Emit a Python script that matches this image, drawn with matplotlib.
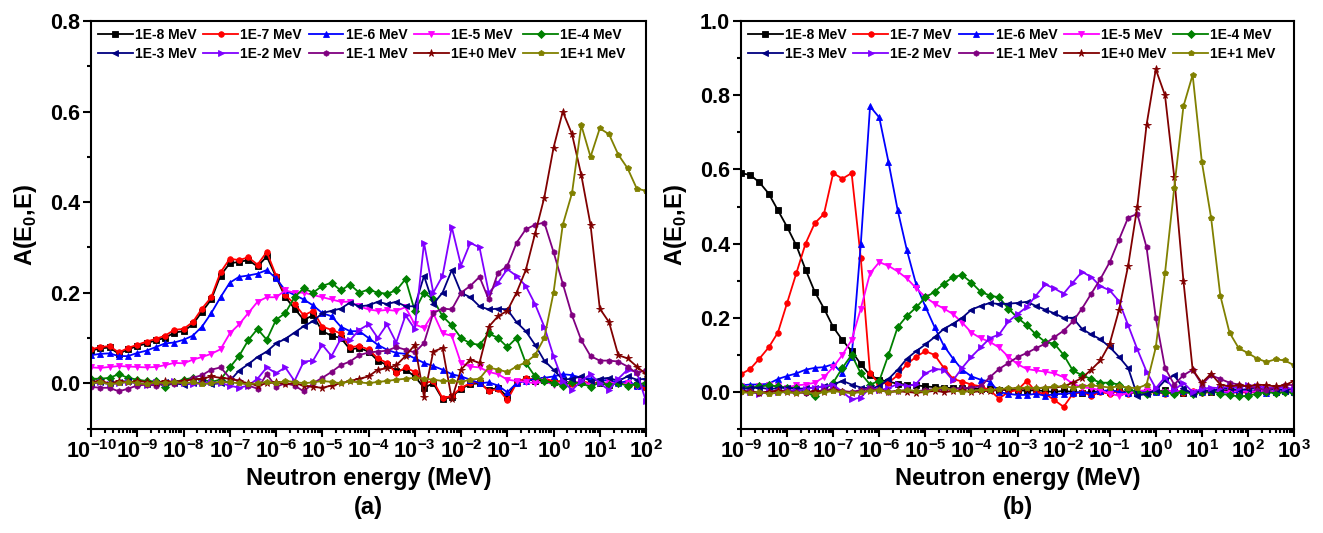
import numpy as np
import matplotlib
matplotlib.use("Agg")
import matplotlib.pyplot as plt
from matplotlib.ticker import LogLocator, MultipleLocator, FormatStrFormatter

plt.rcParams['font.family'] = ['Liberation Sans', 'DejaVu Sans']
plt.rcParams['font.weight'] = 'bold'
plt.rcParams['axes.labelweight'] = 'bold'

labels = ['1E-8 MeV', '1E-7 MeV', '1E-6 MeV', '1E-5 MeV', '1E-4 MeV',
          '1E-3 MeV', '1E-2 MeV', '1E-1 MeV', '1E+0 MeV', '1E+1 MeV']
colors = ['#000000', '#ff0000', '#0000ff', '#ff00ff', '#008000',
          '#000080', '#8000ff', '#800080', '#800000', '#808000']
markers = ['s', 'o', '^', 'v', 'D', '<', '>', 'h', '*', 'p']

# energy grids (log10 MeV), 5 points per decade
e_a = np.linspace(-10, 2, 61)
e_b = np.linspace(-9, 3, 61)

# panel (a)
black_a = [0.072, 0.077, 0.079, 0.065, 0.075, 0.082, 0.088, 0.095, 0.100, 0.112, 0.115,
           0.130, 0.158, 0.185, 0.238, 0.265, 0.268, 0.272, 0.258, 0.280, 0.235,
           0.190, 0.165, 0.140, 0.150, 0.115, 0.105, 0.100, 0.075, 0.078, 0.070,
           0.050, 0.040, 0.028, 0.030, 0.015, -0.010, 0.000, -0.035, -0.030, -0.012,
           -0.002, 0.000, -0.015, -0.010, -0.030, 0.002, 0.010, 0.005, 0.008, 0.003,
           0.005, 0.000, 0.003, -0.002, 0.000, -0.004, 0.002, -0.002, -0.004, -0.008]
red_a = [0.075, 0.080, 0.082, 0.068, 0.078, 0.085, 0.092, 0.098, 0.105, 0.118, 0.120,
         0.135, 0.165, 0.190, 0.245, 0.275, 0.272, 0.278, 0.262, 0.290, 0.238,
         0.195, 0.175, 0.150, 0.160, 0.125, 0.118, 0.110, 0.080, 0.082, 0.075,
         0.055, 0.045, 0.022, 0.035, 0.025, 0.000, 0.005, -0.033, -0.028, -0.010,
         0.000, 0.003, -0.018, -0.012, -0.037, 0.000, 0.012, 0.008, 0.010, 0.005,
         0.003, -0.002, 0.005, 0.000, 0.002, -0.003, 0.004, 0.000, -0.005, -0.010]
blue_a = [0.062, 0.065, 0.066, 0.060, 0.060, 0.067, 0.072, 0.080, 0.088, 0.090, 0.096,
          0.105, 0.125, 0.155, 0.190, 0.222, 0.235, 0.238, 0.242, 0.250, 0.232,
          0.205, 0.195, 0.185, 0.172, 0.155, 0.148, 0.125, 0.115, 0.115, 0.100,
          0.085, 0.074, 0.067, 0.065, 0.055, 0.045, 0.038, 0.030, 0.020, 0.015,
          0.008, 0.000, 0.002, -0.005, -0.020, 0.000, 0.005, 0.010, 0.012, 0.015,
          0.020, 0.018, 0.012, 0.010, 0.005, 0.008, 0.000, 0.005, -0.005, 0.000]
magenta_a = [0.035, 0.034, 0.036, 0.038, 0.037, 0.036, 0.035, 0.036, 0.040, 0.045, 0.044,
             0.052, 0.058, 0.065, 0.075, 0.110, 0.130, 0.155, 0.180, 0.190, 0.190,
             0.205, 0.200, 0.200, 0.195, 0.190, 0.185, 0.180, 0.180, 0.170, 0.163,
             0.160, 0.162, 0.160, 0.168, 0.130, 0.122, 0.155, 0.110, 0.105, 0.044,
             0.037, 0.035, 0.025, 0.020, 0.008, 0.005, 0.003, 0.000, 0.004, -0.003,
             0.002, 0.000, 0.005, -0.004, 0.000, 0.003, -0.002, 0.000, -0.005, 0.002]
green_a = [0.010, 0.010, 0.012, 0.020, 0.012, 0.008, 0.005, 0.004, -0.008, 0.002, 0.008,
           0.012, 0.008, 0.003, 0.008, 0.035, 0.060, 0.095, 0.120, 0.096, 0.140,
           0.155, 0.190, 0.210, 0.200, 0.215, 0.222, 0.205, 0.218, 0.200, 0.207,
           0.200, 0.198, 0.205, 0.230, 0.160, 0.200, 0.185, 0.148, 0.128, 0.100,
           0.088, 0.085, 0.110, 0.100, 0.080, 0.100, 0.045, 0.015, 0.005, 0.000,
           -0.005, 0.002, 0.000, -0.008, 0.002, -0.004, 0.000, -0.005, -0.002, 0.000]
navy_a = [0.000, 0.002, 0.000, 0.003, 0.005, 0.000, -0.002, 0.000, 0.003, 0.000, -0.003,
          0.000, 0.002, -0.002, 0.000, 0.005, 0.028, 0.042, 0.058, 0.070, 0.088,
          0.098, 0.112, 0.126, 0.137, 0.155, 0.160, 0.165, 0.178, 0.170, 0.172,
          0.180, 0.175, 0.180, 0.170, 0.170, 0.237, 0.175, 0.200, 0.250, 0.200,
          0.190, 0.170, 0.163, 0.165, 0.163, 0.135, 0.115, 0.085, 0.050, 0.030,
          0.008, 0.010, 0.015, 0.005, 0.010, 0.012, 0.005, 0.015, 0.008, 0.010]
violet_a = [0.000, 0.002, -0.002, 0.000, 0.003, 0.000, -0.003, 0.002, 0.000, 0.004, 0.000,
            -0.002, 0.000, 0.003, 0.000, -0.005, -0.010, -0.005, 0.010, 0.035, 0.022,
            0.035, 0.005, 0.048, 0.050, 0.085, 0.060, 0.098, 0.095, 0.118, 0.130,
            0.100, 0.130, 0.090, 0.150, 0.120, 0.310, 0.200, 0.237, 0.345, 0.260,
            0.310, 0.300, 0.200, 0.222, 0.252, 0.237, 0.215, 0.175, 0.125, 0.060,
            0.005, -0.015, 0.005, 0.020, 0.000, -0.015, 0.010, 0.030, 0.025, -0.040]
purple_a = [-0.008, -0.010, -0.010, -0.018, -0.012, -0.005, -0.003, -0.005, 0.000, -0.002, 0.002,
            0.012, 0.018, 0.030, 0.035, 0.012, 0.005, -0.005, -0.012, 0.020, -0.008,
            0.000, -0.005, -0.018, 0.000, 0.012, 0.025, 0.040, 0.048, 0.062, 0.068,
            0.070, 0.072, 0.080, 0.074, 0.068, 0.089, 0.155, 0.165, 0.163, 0.200,
            0.215, 0.235, 0.185, 0.244, 0.259, 0.310, 0.340, 0.350, 0.355, 0.290,
            0.220, 0.150, 0.095, 0.060, 0.050, 0.050, 0.048, 0.037, 0.022, 0.030]
darkred_a = [0.003, 0.005, 0.000, 0.004, 0.002, 0.005, 0.003, 0.000, 0.005, 0.003, 0.006,
             0.008, 0.010, 0.015, 0.012, 0.010, 0.005, 0.000, -0.005, 0.000, 0.002,
             -0.002, 0.000, -0.005, -0.008, -0.010, -0.005, 0.000, 0.005, 0.010, 0.015,
             0.030, 0.033, 0.040, 0.060, 0.085, -0.030, 0.070, 0.078, -0.035, 0.030,
             0.052, 0.045, 0.125, 0.148, 0.160, 0.200, 0.250, 0.330, 0.410, 0.520,
             0.600, 0.550, 0.460, 0.350, 0.165, 0.135, 0.062, 0.055, 0.037, 0.020]
olive_a = [0.000, 0.002, -0.002, 0.000, 0.003, 0.000, -0.002, 0.002, 0.000, 0.003, 0.000,
           0.002, -0.002, 0.000, 0.003, 0.002, 0.000, -0.002, 0.000, 0.003, 0.000,
           0.005, 0.003, 0.000, 0.002, 0.005, 0.003, 0.000, 0.004, 0.002, 0.000,
           0.003, 0.005, 0.008, 0.010, 0.012, 0.010, 0.008, 0.005, 0.005, 0.003,
           0.008, 0.010, 0.035, 0.030, 0.025, 0.037, 0.046, 0.062, 0.100, 0.200,
           0.350, 0.420, 0.570, 0.500, 0.563, 0.550, 0.505, 0.475, 0.430, 0.425]

# panel (b)
black_b = [0.590, 0.585, 0.565, 0.535, 0.490, 0.445, 0.395, 0.330, 0.270, 0.225, 0.175,
           0.140, 0.110, 0.075, 0.045, 0.033, 0.028, 0.022, 0.020, 0.018, 0.015,
           0.013, 0.012, 0.010, 0.010, 0.009, 0.008, 0.007, 0.006, 0.005, 0.005,
           0.003, 0.005, 0.002, 0.000, 0.003, 0.000, -0.002, 0.000, 0.002, 0.000,
           0.003, 0.000, -0.002, 0.000, 0.002, 0.004, 0.000, -0.003, 0.000, 0.002,
           0.000, 0.003, 0.005, 0.002, 0.000, 0.003, 0.002, 0.000, 0.002, 0.000]
red_b = [0.048, 0.062, 0.090, 0.120, 0.160, 0.240, 0.320, 0.400, 0.455, 0.480, 0.590,
         0.575, 0.590, 0.360, 0.050, 0.022, 0.025, 0.045, 0.075, 0.095, 0.110,
         0.100, 0.065, 0.035, 0.028, 0.020, 0.015, 0.005, -0.018, 0.000, 0.005,
         0.030, 0.000, -0.005, -0.022, -0.040, -0.005, 0.000, -0.010, 0.000, -0.005,
         0.003, -0.005, 0.000, -0.003, 0.000, -0.005, 0.000, -0.002, 0.002, -0.003,
         0.000, 0.002, -0.003, 0.000, -0.002, 0.000, 0.002, -0.002, 0.000, 0.002]
blue_b = [0.018, 0.020, 0.020, 0.022, 0.035, 0.043, 0.050, 0.060, 0.065, 0.067, 0.075,
          0.050, 0.094, 0.400, 0.770, 0.740, 0.620, 0.490, 0.382, 0.290, 0.230,
          0.175, 0.125, 0.090, 0.060, 0.042, 0.033, 0.028, 0.000, -0.005, -0.008,
          -0.008, -0.005, -0.010, -0.006, -0.005, -0.003, 0.000, -0.005, 0.002, 0.005,
          0.000, -0.003, 0.000, 0.003, 0.000, -0.003, 0.000, 0.002, -0.002, 0.000,
          0.002, 0.000, -0.002, 0.000, 0.003, 0.000, -0.002, 0.000, 0.002, 0.000]
magenta_b = [0.015, 0.012, 0.015, 0.018, 0.015, 0.012, 0.018, 0.020, 0.025, 0.040, 0.067,
             0.100, 0.140, 0.225, 0.320, 0.350, 0.340, 0.325, 0.306, 0.280, 0.256,
             0.238, 0.225, 0.210, 0.187, 0.160, 0.145, 0.135, 0.120, 0.095, 0.075,
             0.062, 0.058, 0.055, 0.050, 0.040, 0.022, 0.013, 0.010, 0.005, -0.005,
             -0.010, -0.003, 0.002, 0.005, 0.003, 0.000, 0.004, 0.002, 0.000, 0.003,
             0.005, 0.002, 0.000, 0.003, 0.000, 0.002, 0.004, 0.000, 0.002, 0.000]
green_b = [0.015, 0.012, 0.015, 0.018, 0.015, 0.012, 0.010, 0.000, -0.012, 0.005, 0.025,
           0.065, 0.100, 0.050, 0.020, 0.030, 0.100, 0.175, 0.205, 0.228, 0.255,
           0.270, 0.292, 0.310, 0.315, 0.295, 0.270, 0.260, 0.255, 0.225, 0.200,
           0.180, 0.155, 0.135, 0.130, 0.100, 0.058, 0.045, 0.035, 0.025, 0.025,
           0.020, 0.008, 0.000, -0.005, 0.003, 0.000, -0.005, 0.002, -0.005, 0.000,
           0.003, -0.005, -0.008, -0.012, -0.010, -0.005, 0.000, -0.003, 0.000, -0.002]
navy_b = [0.008, 0.010, 0.012, 0.008, 0.010, 0.012, 0.008, 0.010, 0.012, 0.015, 0.020,
          0.030, 0.020, 0.012, 0.010, 0.015, 0.035, 0.060, 0.090, 0.110, 0.128,
          0.148, 0.170, 0.184, 0.200, 0.222, 0.232, 0.240, 0.237, 0.238, 0.240,
          0.243, 0.232, 0.222, 0.212, 0.200, 0.200, 0.170, 0.155, 0.142, 0.121,
          0.095, 0.065, -0.010, -0.005, 0.005, 0.031, 0.045, 0.010, -0.005, 0.005,
          0.003, 0.008, 0.010, 0.005, 0.008, 0.010, 0.005, 0.008, 0.005, 0.010]
violet_b = [0.005, 0.000, -0.005, 0.002, 0.000, 0.005, 0.003, 0.008, 0.012, 0.015, 0.020,
            0.000, -0.020, -0.015, 0.012, 0.005, 0.010, 0.022, 0.015, 0.022, 0.050,
            0.062, 0.060, 0.031, 0.065, 0.095, 0.120, 0.145, 0.155, 0.190, 0.210,
            0.229, 0.260, 0.290, 0.279, 0.265, 0.295, 0.324, 0.310, 0.285, 0.274,
            0.245, 0.180, 0.115, 0.055, 0.010, 0.040, 0.005, 0.025, 0.000, 0.008,
            0.012, 0.010, 0.015, 0.012, 0.018, 0.015, 0.012, 0.010, 0.012, 0.008]
purple_b = [0.000, 0.003, -0.002, 0.000, 0.005, 0.002, 0.000, -0.003, 0.000, 0.005, 0.008,
            0.003, 0.000, 0.005, 0.010, 0.005, 0.000, 0.003, 0.005, 0.002, 0.005,
            0.008, 0.005, 0.008, 0.010, 0.012, 0.015, 0.040, 0.062, 0.078, 0.094,
            0.105, 0.118, 0.130, 0.148, 0.165, 0.190, 0.225, 0.265, 0.305, 0.350,
            0.410, 0.470, 0.480, 0.390, 0.200, 0.065, 0.020, 0.045, 0.060, 0.020,
            0.045, 0.035, 0.025, 0.020, 0.015, 0.010, 0.005, 0.012, 0.020, 0.018]
darkred_b = [0.002, 0.000, -0.002, 0.000, 0.003, 0.000, -0.003, 0.000, 0.002, 0.000, 0.004,
             0.000, -0.002, 0.000, 0.003, 0.005, 0.000, 0.002, 0.000, -0.002, 0.000,
             0.003, 0.000, 0.002, 0.004, 0.000, 0.002, 0.003, 0.005, 0.008, 0.010,
             0.008, 0.010, 0.012, 0.012, 0.015, 0.025, 0.038, 0.060, 0.085, 0.130,
             0.220, 0.340, 0.500, 0.720, 0.870, 0.800, 0.580, 0.300, 0.060, 0.025,
             0.049, 0.020, 0.015, 0.018, 0.015, 0.020, 0.018, 0.015, 0.018, 0.030]
olive_b = [0.000, -0.003, 0.000, -0.005, -0.002, 0.000, -0.003, 0.000, -0.005, 0.000, 0.002,
           0.000, -0.003, 0.000, 0.003, 0.005, 0.000, 0.002, 0.005, 0.003, 0.000,
           0.008, 0.012, 0.005, 0.000, 0.003, 0.005, 0.005, 0.008, 0.010, 0.010,
           0.012, 0.010, 0.012, 0.015, 0.015, 0.012, 0.015, 0.018, 0.015, 0.012,
           0.015, 0.012, 0.010, 0.020, 0.120, 0.320, 0.550, 0.770, 0.855, 0.620,
           0.470, 0.260, 0.160, 0.118, 0.105, 0.090, 0.081, 0.088, 0.085, 0.072]

series_a = [black_a, red_a, blue_a, magenta_a, green_a, navy_a, violet_a, purple_a, darkred_a, olive_a]
series_b = [black_b, red_b, blue_b, magenta_b, green_b, navy_b, violet_b, purple_b, darkred_b, olive_b]

fig = plt.figure(figsize=(13.23, 5.33), dpi=100)
ax1 = fig.add_axes([0.0688, 0.196, 0.4195, 0.7645])
ax2 = fig.add_axes([0.5601, 0.195, 0.418, 0.7655])


def draw(ax, e, series, xlim, ylim, tag):
    x = 10.0 ** e
    lines = []
    for y, c, m, lab in zip(series, colors, markers, labels):
        ms = 5.5 if m == '*' else 4
        ln, = ax.plot(x, y, color=c, marker=m, markersize=ms, linewidth=1.3,
                      markeredgewidth=0.6, label=lab)
        lines.append(ln)
    ax.set_xscale('log')
    ax.set_xlim(*xlim)
    ax.set_ylim(*ylim)
    ax.xaxis.set_major_locator(LogLocator(base=10, numticks=30))
    ax.xaxis.set_minor_locator(LogLocator(base=10, subs=np.arange(2, 10), numticks=30))
    ax.yaxis.set_major_locator(MultipleLocator(0.2))
    ax.yaxis.set_minor_locator(MultipleLocator(0.1))
    ax.yaxis.set_major_formatter(FormatStrFormatter('%.1f'))
    ax.tick_params(which='both', direction='out', top=False, right=False, width=1.5)
    ax.tick_params(which='major', length=6, labelsize=15.5, pad=2)
    ax.tick_params(which='minor', length=3)
    for s in ax.spines.values():
        s.set_linewidth(1.5)
    ax.set_xlabel('Neutron energy (MeV)', fontsize=17, fontweight='bold', labelpad=3)
    ax.set_ylabel(r'A(E$_{\mathdefault{0}}$,E)', fontsize=17, fontweight='bold', labelpad=8)
    # legend filled row by row
    order = [0, 5, 1, 6, 2, 7, 3, 8, 4, 9]
    ax.legend([lines[k] for k in order], [labels[k] for k in order],
              loc='upper left', ncol=5, frameon=False,
              handlelength=2.5, handletextpad=0.15, columnspacing=0.5,
              labelspacing=0.35, borderaxespad=0.3, borderpad=0.2,
              prop={'weight': 'bold', 'size': 10})
    pos = ax.get_position()
    fig.text(pos.x0 + pos.width / 2, 0.047, tag, ha='center', va='center',
             fontsize=17, fontweight='bold')


draw(ax1, e_a, series_a, (1e-10, 1e2), (-0.1, 0.8), '(a)')
draw(ax2, e_b, series_b, (1e-9, 1e3), (-0.1, 1.0), '(b)')

fig.savefig('out.png', dpi=100)
